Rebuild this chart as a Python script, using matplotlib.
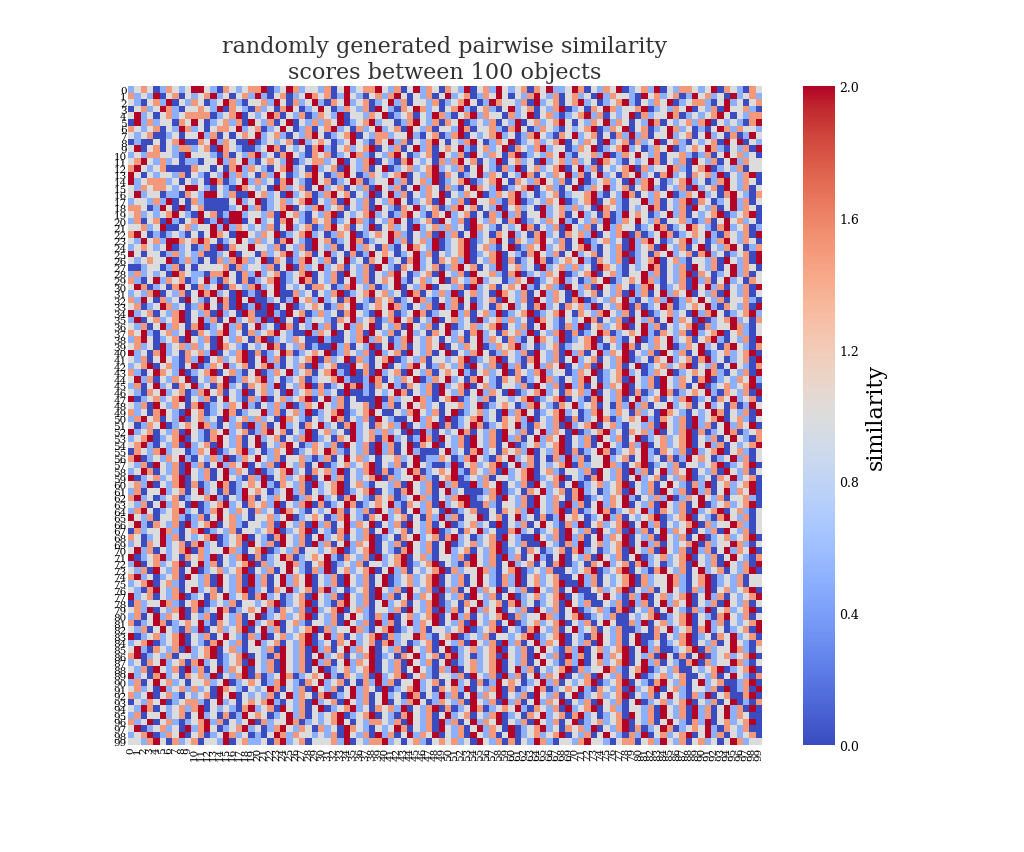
import numpy as np
import matplotlib
matplotlib.use("Agg")
import matplotlib.pyplot as plt

# levels: 0=0.0, 1=0.5, 2=1.0, 3=1.5, 4=2.0 (approximate readings of the cell colours)
level_values = [0.0, 0.5, 1.0, 1.5, 2.0]
rows = [
"1232013212 4421032123 3401243122 1302412334 2130241320 3214023142 1230324112 4302132401 2314021332 1240321032",
"3121402302 1234120231 4102301243 2301421023 1342021302 4123013242 0213421302 3120413221 0423123014 2312041231",
"2102314021 3201243102 2314203124 1032412301 2413022130 1234201432 2130412302 3412012341 0213240123 3102412023",
"0231243102 2321403210 3120342012 4201321304 2103243120 2341023102 4123021340 1203243122 3401213240 2130422310",
"2412023123 3330123402 1243021301 3214022132 4012302143 1023413220 3124023101 2341302124 0312243012 1234202133",
"0413122032 4201231304 2130240213 1324012341 2201342130 3240121302 1402312342 0213241320 2143021231 3402121034",
"3212302143 1202332412 3012420130 2341203124 1230421302 2143022310 3420132102 1234013240 2301243120 1024313221",
"2123001202 2413020232 4123102134 2012340213 3122410230 1340212341 2013421032 4123020314 1302241230 2412030142",
"0100202340 0324132004 0121230412 3201242103 2413021342 0213420132 4012312340 2132041230 3124023102 1230424021",
"2402302133 1230432100 1243021203 4102312340 2130241302 3241023124 0321341220 1324012341 2013240123 2431021304",
"1213322104 2221030213 4120342103 2301243102 1342012304 2130421320 3401213241 0223140132 4213022310 1302423120",
"2342131201 1022413241 0232140123 3124021340 2103421203 1342302140 2312041231 3120432102 1243021304 2130241322",
"3421230000 3220203413 2102341204 1230421302 4012312341 2130242103 1402312340 2413021234 0312243102 3401213022",
"4202122130 2102141312 0314201234 2013420132 1234021340 3201241320 2143021324 1302412032 4120341203 2314021340",
"4123331202 1204301241 3120342104 2301243012 2413023140 1234012342 0321342130 2401231204 1342012341 2013421320",
"2132332124 4210210432 1204312302 4123021304 2130241320 3102432140 1234023102 4013241230 2341021304 1230421302",
"2412201103 2144213004 2312041230 1342302140 2413021324 0213240132 3412012301 2234102143 0213240132 4120342103",
"1221314020 3100002412 4012312340 2130421302 1342012304 2130422310 3401213240 1234023102 2413021340 3201241302",
"3320142040 2300001241 3012340213 4123021304 2103241230 1342302140 2312041231 3120432102 1243021304 2130241320",
"2312123421 0423014412 2130423102 1340212341 2013421032 4123020314 1302241230 2412030142 3201241302 1234012340",
"1302304102 3401404402 4120342103 2301243102 1342012304 2130421320 3401213241 0213140132 4213022310 1302423120",
"2231240023 1224141321 2130241230 1342302140 2312041231 3120432102 1243021304 2130241322 0124301243 2103412301",
"3420101210 2024320442 1324012341 2013240123 2431021304 1302412032 4120341203 2314021340 3012430123 2410321304",
"2142314432 3432012421 3120342104 2301243012 2413023140 1234012342 0321342130 2401231204 1342012341 2013421320",
"1232124012 0130403224 2213021304 2130241320 3102432140 1234023102 4013241230 2341021304 1230421302 4021342013",
"4202201312 1300124022 0312341230 2412030142 3201241302 1234012340 2103421302 4123021340 1203241230 3412012304",
"2123224013 1020313431 2403201342 1302412032 4120341203 2314021340 3012430123 2410321304 1234023102 2130421304",
"0012201302 0222230312 2130240312 4123021304 2103241230 1342302140 2312041231 3120432102 1243021304 2130241320",
"1312120432 1103342031 4123012340 2130421302 1342012304 2130422310 3401213240 1234023102 2413021340 3201241302",
"3102413230 1241032030 1234012430 2130241302 3241023124 0321341220 1324012341 2013240123 2431021304 1302412032",
"2430120342 0312403213 4124021203 3201342130 1240213402 2130412302 3241023104 2130421320 1342012304 2413021304",
"1213402130 2434120401 0424003120 2134012342 3120430213 1402312043 2130241320 4123021304 1302413240 2130421302",
"3142031204 2102430424 0012014231 4120342103 2301243102 1342012304 2130421320 3401213241 0213140132 4213022310",
"2301243120 1342030401 4040240123 2013240123 2431021304 1302412032 4120341203 2314021340 3012430123 2410321304",
"4123021340 2130412043 0041042301 3120342104 2301243012 2413023140 1234012342 0321342130 2401231204 1342012341",
"1402312340 2413024123 1404020412 2103241230 1342302140 2312041231 3120432102 1243021304 2130241320 4012341203",
"2130241320 3401241302 4120430214 1302413240 2130421302 4012312340 2130242103 1402312340 2413021234 0312243102",
"3241023124 0321341203 1234210041 3240213042 1302412032 4120341203 2314021340 3012430123 2410321304 1234023102",
"1342012304 2130421320 3401213200 4100213413 2013421320 2130241320 3102432140 1234023102 4013241230 2341021304",
"2312041231 3120432102 1243021301 0041302140 2413021324 0213240132 3412012301 2234102143 0213240132 4120342103",
"4120341203 2314021340 3012430123 2401321304 1230421302 4021342013 2130421304 1302413240 2130421302 4012312340",
"2130242103 1402312340 2413021234 0312403102 3401213022 1234012340 2103421302 4123021340 1203241230 3412012304",
"1234023102 4013241230 2341021304 1230042302 4021342013 2130421304 1302413240 2130421302 4012312340 2130242103",
"3102432140 1234023102 4013241230 2341040304 1230421302 3241023124 0321341220 1324012341 2013240123 2431021304",
"2413021324 0213240132 3412012301 2234100143 0213240132 4120342103 2301243102 1342012304 2130421320 3401213241",
"1302412032 4120341203 2314021340 3012434103 2410321304 1234023102 2130421304 1302413240 2130421302 4012312340",
"2103241230 1342302140 2312041231 3120400102 1243021304 2130241320 4012341203 2314021340 3012430123 2410321304",
"4012312340 2130242103 1402312340 2413020004 0312243102 3401213022 1234012340 2103421302 4123021340 1203241230",
"2130421320 3401213241 0213140132 4213022304 1302423120 2231240123 2013421032 4123020314 1302241230 2412030142",
"3120342104 2301243012 2413023140 1234012342 0021342130 2401231204 1342012341 2013421320 3120432102 1243021304",
"1342302140 2312041231 3120432102 1243021304 2100241320 4012341203 2314021340 3012430123 2410321304 1234023102",
"2013240123 2431021304 1302412032 4120341203 2314021340 3012430123 2410321304 1234023102 2130421304 1302413240",
"4123021304 2103241230 1342302140 2312041231 3120404102 1243021304 2130241320 4012341203 2314021340 3012430123",
"1234012340 2103421302 4123021340 1203241230 3412014304 2130421304 1302413240 2130421302 4012312340 2130242103",
"2341021304 1230421302 4021342013 2130421304 1302403240 2130421302 4012312340 2130242103 1402312340 2413021234",
"0321341220 1324012341 2013240123 2431021304 1302410002 4120341203 2314021340 3012430123 2410321304 1234023102",
"3401213241 0213140132 4213022310 1302423120 2231240113 2013421032 4123020314 1302241230 2412030142 3201241302",
"2130421304 1302413240 2130421302 4012312340 2130242100 1402312340 2413021234 0312243102 3401213022 1234012340",
"1243021304 2130241320 4012341203 2314021340 3012430123 2410321304 1234023102 2130421304 1302413240 2130421302",
"4012312340 2130242103 1402312340 2413021234 0312243102 3401213022 1234012340 2103421302 4123021340 1203241230",
"2314021340 3012430123 2410321304 1234023102 2130421304 1300413240 2130421302 4012312340 2130242103 1402312340",
"1302241230 2412030142 3201241302 1234012340 2103421302 4120001340 1203241230 3412012304 2130421304 1302413240",
"3412012301 2234102143 0213240132 4120342103 2301243102 1344012304 2130421320 3401213241 0213140132 4213022310",
"2130241320 4012341203 2314021340 3012430123 2410321304 1234003102 2130421304 1302413240 2130421302 4012312340",
"1342012341 2013421320 3120432102 1243021304 2130241320 4012300203 2314021340 3012430123 2410321304 1234023102",
"4213022310 1302423120 2231240123 2013421032 4123020314 1302240230 2412030142 3201241302 1234012340 2103421302",
"2410321304 1234023102 2130421304 1302413240 2130421302 4012312040 2130242103 1402312340 2413021234 0312243102",
"0312243102 3401213022 1234012340 2103421302 4123021340 1203241200 3412012304 2130421304 1302413240 2130421302",
"3201241302 1234012340 2103421302 4123021340 1203241230 3412012304 2100421304 1302413240 2130421302 4012312340",
"1203241230 3412012304 2130421304 1302413240 2130421302 4012312340 2130042103 1402312340 2413021234 0312243102",
"2413021234 0312243102 3401213022 1234012340 2103421302 4123021340 1203201230 3412012304 2130421304 1302413240",
"4012341203 2314021340 3012430123 2410321304 1234023102 2130421304 1302410240 2130421302 4012312340 2130242103",
"1402312340 2413021234 0312243102 3401213022 1234012340 2103421302 4123020340 1203241230 3412012304 2130421304",
"2130421302 4012312340 2130242103 1402312340 2413021234 0312243102 3401213002 1234012340 2103421302 4123021340",
"3412012304 2130421304 1302413240 2130421302 4012312340 2130242103 1402312300 2413021234 0312243102 3401213022",
"1234023102 2130421304 1302413240 2130421302 4012312340 2130242103 1402312340 0413021234 0312243102 3401213022",
"2103421302 4123021340 1203241230 3412012304 2130421304 1302413240 2130421302 4002312340 2130242103 1402312340",
"4123021340 1203241230 3412012304 2130421304 1302413240 2130421302 4012312340 2100242103 1402312340 2413021234",
"0312243102 3401213022 1234012340 2103421302 4123021340 1203241230 3412012304 2130021304 1302413240 2130421302",
"2314021340 3012430123 2410321304 1234023102 2130421304 1302413240 2130421302 4012310340 2130242103 1402312340",
"1302413240 2130421302 4012312340 2130242103 1402312340 2413021234 0312243102 3401213002 1234012340 2103421302",
"3012430123 2410321304 1234023102 2130421304 1302413240 2130421302 4012312340 2130242003 1402312340 2413021234",
"2130242103 1402312340 2413021234 0312243102 3401213022 1234012340 2103421302 4123021300 1203241230 3412012304",
"4012312340 2130242103 1402312340 2413021234 0312243102 3401213022 1234012340 2103421302 4003021340 1203241230",
"1234012340 2103421302 4123021340 1203241230 3412012304 2130421304 1302413240 2130421302 4012012340 2130242103",
"2410321304 1234023102 2130421304 1302413240 2130421302 4012312340 2130242103 1402312340 2413001234 0312243102",
"3401213022 1234012340 2103421302 4123021340 1203241230 3412012304 2130421304 1302413240 2130420302 4012312340",
"1203241230 3412012304 2130421304 1302413240 2130421302 4012312340 2130242103 1402312340 2413021034 0312243102",
"2130421304 1302413240 2130421302 4012312340 2130242103 1402312340 2413021234 0312243102 3401213002 1234012340",
"4120341203 2314021340 3012430123 2410321304 1234023102 2130421304 1302413240 2130421302 4012312300 2130242103",
"1302423120 2231240123 2013421032 4123020314 1302241230 2412030142 3201241302 1234012340 2103421302 4123001340",
"2312041231 3120432102 1243021304 2130241320 4012341203 2314021340 3012430123 2410321304 1234023102 2130401304",
"3124023102 1230424021 2130241320 3401241302 4120430214 1302413240 2130421302 4012312340 2130242103 1402300340",
"0213240123 3102412023 2341021304 1230421302 4021342013 2130421304 1302413240 2130421302 4012312340 2130240103",
"2143021231 3402121034 1230421302 4012341203 2314021340 3012430123 2410321304 1234023102 2130421304 1302413040",
"1302241230 2412030142 3201241302 1234012340 2103421302 4123021340 1203241230 3412012304 2130421304 1302413200",
"3124023101 2341302124 0312243012 1234202133 2130421304 1302413240 2130421302 4012312340 2130242103 1402312340",
"2401231204 1342012341 2013421320 3120432102 1243021304 2130241320 4012341203 2314021340 3012430123 2410321300",
"1234013240 2301243120 1024313221 2130421304 1302413240 2130421302 4012312340 2130242103 1402312340 2413021230",
"2213420312 3022140231 1203412302 2231402133 4120231023 2312042130 3021431022 1342210233 0231421302 3120243122",
]
n_objects = 100
labels = [str(i) for i in range(n_objects)]
cbar_ticks = [0.0, 0.4, 0.8, 1.2, 1.6, 2.0]

data = np.array([[level_values[int(c)] for c in r.replace(" ", "")] for r in rows])

plt.rcParams["font.family"] = "DejaVu Serif"
fig = plt.figure(figsize=(10.24, 8.53), dpi=100)
ax = fig.add_axes([0.125, 0.1254, 0.619, 0.7726])
cax = fig.add_axes([0.784, 0.1254, 0.031, 0.7726])
im = ax.pcolormesh(data, cmap="coolwarm", vmin=0, vmax=2)
ax.set_xlim(0, n_objects); ax.set_ylim(n_objects, 0)
ax.set_xticks(np.arange(n_objects) + 0.5)
ax.set_xticklabels(labels, rotation=90, fontsize=7.5)
ax.set_yticks(np.arange(n_objects) + 0.5)
ax.set_yticklabels(labels, rotation=0, fontsize=7.5)
ax.tick_params(length=0, pad=1)
for s in ax.spines.values():
    s.set_visible(False)
ax.set_title("randomly generated pairwise similarity\nscores between 100 objects", fontsize=16, color="#333333")
cb = fig.colorbar(im, cax=cax, ticks=cbar_ticks)
cb.outline.set_visible(False)
cb.ax.tick_params(length=0, labelsize=9)
cb.ax.set_yticklabels([f"{t:.1f}" for t in cbar_ticks])
cb.set_label("similarity", fontsize=16)
fig.savefig("out.png", dpi=100)
